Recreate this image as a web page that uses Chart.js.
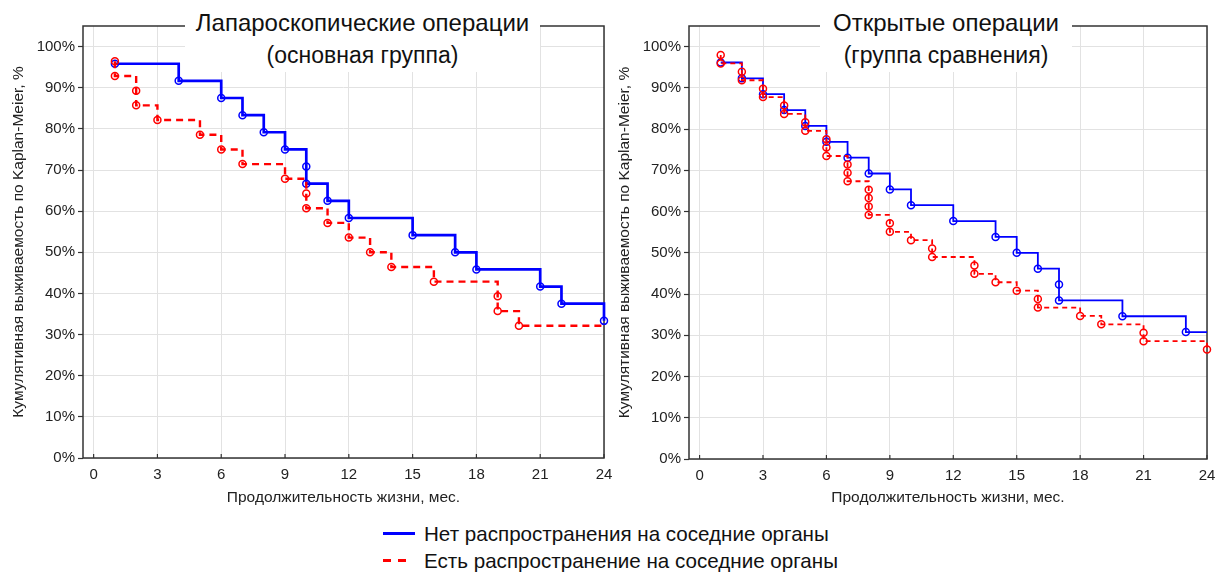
<!DOCTYPE html>
<html>
<head>
<meta charset="utf-8">
<script src="https://cdn.jsdelivr.net/npm/chart.js@4.4.1/dist/chart.umd.min.js"></script>
<style>
  html, body { margin:0; padding:0; background:#fff; }
  body { width:1226px; height:572px; position:relative; overflow:hidden; font-family:"Liberation Sans", Arial, sans-serif; color:#111; }
  canvas { position:absolute; top:0; }
  .tbox { position:absolute; top:0; height:72px; background:#fff; text-align:center; color:#111; }
  .tbox div { position:absolute; left:0; right:0; white-space:nowrap; }
  .l1 { top:9px; font-size:24px; }
  .l2 { top:42px; font-size:23px; }
  .leg { position:absolute; left:424px; font-size:20.6px; line-height:24px; white-space:nowrap; color:#111; }
  .sw { position:absolute; height:3px; }
</style>
</head>
<body>
<canvas id="cl" width="613" height="520" style="left:0;width:613px;height:520px"></canvas>
<canvas id="cr" width="613" height="520" style="left:613px;width:613px;height:520px"></canvas>

<div class="tbox" style="left:185px;width:355px">
  <div class="l1">Лапароскопические операции</div>
  <div class="l2">(основная группа)</div>
</div>
<div class="tbox" style="left:820px;width:252px">
  <div class="l1">Открытые операции</div>
  <div class="l2">(группа сравнения)</div>
</div>

<div class="sw" style="left:383px;top:532px;width:32px;background:#0000ff"></div>
<div class="leg" style="top:522px">Нет распространения на соседние органы</div>
<div class="sw" style="left:383px;top:559px;width:23px;background:linear-gradient(to right,#ff0000 0 8px,transparent 8px 15px,#ff0000 15px 23px)"></div>
<div class="leg" style="top:549px">Есть распространение на соседние органы</div>

<script>
// ---- data (Kaplan-Meier survival, %) ----
const xTicks = [0, 3, 6, 9, 12, 15, 18, 21, 24];
const yTicks = [0, 10, 20, 30, 40, 50, 60, 70, 80, 90, 100];
const followUpEnd = 24;

// Laparoscopic (main group)
const lapNoTime  = [1, 4, 6, 7, 8, 9, 10, 10, 11, 12, 15, 17, 18, 21, 22, 24];
const lapNoSurv  = [95.83, 91.67, 87.5, 83.33, 79.17, 75, 70.83, 66.67, 62.5, 58.33, 54.17, 50, 45.83, 41.67, 37.5, 33.33];
const lapYesTime = [1, 1, 2, 2, 3, 5, 6, 7, 9, 10, 10, 11, 12, 13, 14, 16, 19, 19, 20];
const lapYesSurv = [96.43, 92.86, 89.29, 85.71, 82.14, 78.57, 75, 71.43, 67.86, 64.29, 60.71, 57.14, 53.57, 50, 46.43, 42.86, 39.29, 35.71, 32.14];

// Open surgery (comparison group)
const openNoTime  = [1, 2, 3, 4, 5, 6, 7, 8, 9, 10, 12, 14, 15, 16, 17, 17, 20, 23];
const openNoSurv  = [96.15, 92.31, 88.46, 84.62, 80.77, 76.92, 73.08, 69.23, 65.38, 61.54, 57.69, 53.85, 50, 46.15, 42.31, 38.46, 34.62, 30.77];
const openYesTime = [1, 1, 2, 2, 3, 3, 4, 4, 5, 5, 6, 6, 6, 7, 7, 7, 8, 8, 8, 8, 9, 9, 10, 11, 11, 13, 13, 14, 15, 16, 16, 18, 19, 21, 21, 24];
const openYesSurv = [97.96, 95.92, 93.88, 91.84, 89.80, 87.76, 85.71, 83.67, 81.63, 79.59, 77.55, 75.51, 73.47, 71.43, 69.39, 67.35, 65.31, 63.27, 61.22, 59.18, 57.14, 55.10, 53.06, 51.02, 48.98, 46.94, 44.90, 42.86, 40.82, 38.78, 36.73, 34.69, 32.65, 30.61, 28.57, 26.53];

const FONT = '"Liberation Sans", Arial, sans-serif';
const BLUE = '#0000ff', RED = '#ff0000';

function kmSeries(T, S, end, r) {
  const pts = T.map((t, i) => ({ x: t, y: S[i] }));
  const radii = pts.map(() => r);
  if (T[T.length - 1] < end) { pts.push({ x: end, y: S[S.length - 1] }); radii.push(0); }
  return { pts, radii };
}

const framePlugin = {
  id: 'frame',
  beforeDatasetsDraw(chart) {
    const { ctx, chartArea: a } = chart;
    const xs = chart.scales.x;
    ctx.save();
    ctx.strokeStyle = '#333';
    ctx.lineWidth = 1.5;
    ctx.strokeRect(a.left, a.top, a.right - a.left, a.bottom - a.top);
    ctx.lineWidth = 1.2;
    xs.ticks.forEach(t => {
      const px = xs.getPixelForValue(t.value);
      ctx.beginPath(); ctx.moveTo(px, a.bottom); ctx.lineTo(px, a.bottom - 4); ctx.stroke();
    });
    ctx.restore();
  }
};

function makeChart(id, cfg) {
  const blue = kmSeries(cfg.noT, cfg.noS, followUpEnd, 3.5);
  const red = kmSeries(cfg.yesT, cfg.yesS, followUpEnd, 3.5);
  new Chart(document.getElementById(id), {
    type: 'line',
    data: {
      datasets: [
        {
          label: 'Есть распространение на соседние органы',
          data: red.pts, stepped: 'before',
          borderColor: RED, borderWidth: cfg.redW, borderDash: cfg.dash,
          pointRadius: red.radii, pointBorderColor: RED, pointBackgroundColor: 'rgba(0,0,0,0)',
          pointBorderWidth: 1.5, fill: false, clip: 8
        },
        {
          label: 'Нет распространения на соседние органы',
          data: blue.pts, stepped: 'before',
          borderColor: BLUE, borderWidth: cfg.blueW,
          pointRadius: blue.radii, pointBorderColor: BLUE, pointBackgroundColor: 'rgba(0,0,0,0)',
          pointBorderWidth: 1.5, fill: false, clip: 8
        }
      ]
    },
    options: {
      responsive: false, animation: false,
      layout: { padding: { left: 0, top: 26, right: cfg.padRight, bottom: 0 } },
      plugins: { legend: { display: false }, tooltip: { enabled: false } },
      scales: {
        x: {
          type: 'linear', min: -0.5, max: 24,
          afterBuildTicks: s => { s.ticks = xTicks.map(v => ({ value: v })); },
          afterFit: s => { s.height = cfg.xH; s.paddingLeft = 0; s.paddingRight = 0; },
          grid: { color: '#e2e2e2', lineWidth: 1, drawTicks: false },
          border: { display: false },
          ticks: { padding: 8, color: '#222', font: { family: FONT, size: 15 }, maxRotation: 0 },
          title: { display: true, text: 'Продолжительность жизни, мес.', color: '#222',
                   font: { family: FONT, size: 15.5 }, padding: { top: 0, bottom: 13 } }
        },
        y: {
          type: 'linear', min: 0, max: 105,
          afterBuildTicks: s => { s.ticks = yTicks.map(v => ({ value: v })); },
          afterFit: s => { s.width = cfg.yW; s.paddingTop = 0; s.paddingBottom = 0; },
          grid: { color: '#e2e2e2', lineWidth: 1, drawTicks: true, tickLength: 5, tickColor: '#333', tickWidth: 1.2 },
          border: { display: false },
          ticks: { padding: 3, color: '#222', font: { family: FONT, size: 15 }, callback: v => v + '%' },
          title: { display: true, text: 'Кумулятивная выживаемость по Kaplan-Meier, %', color: '#222',
                   font: { family: FONT, size: 15.5 }, padding: { top: cfg.yTitlePad, bottom: 0 } }
        }
      }
    },
    plugins: [framePlugin]
  });
}

makeChart('cl', { noT: lapNoTime, noS: lapNoSurv, yesT: lapYesTime, yesS: lapYesSurv,
  yW: 83, xH: 62, padRight: 9, yTitlePad: 9, blueW: 2.7, redW: 2.4, dash: [7, 5] });
makeChart('cr', { noT: openNoTime, noS: openNoSurv, yesT: openYesTime, yesS: openYesSurv,
  yW: 76, xH: 61, padRight: 19, yTitlePad: 2.5, blueW: 1.8, redW: 1.8, dash: [5, 4] });
</script>
</body>
</html>
